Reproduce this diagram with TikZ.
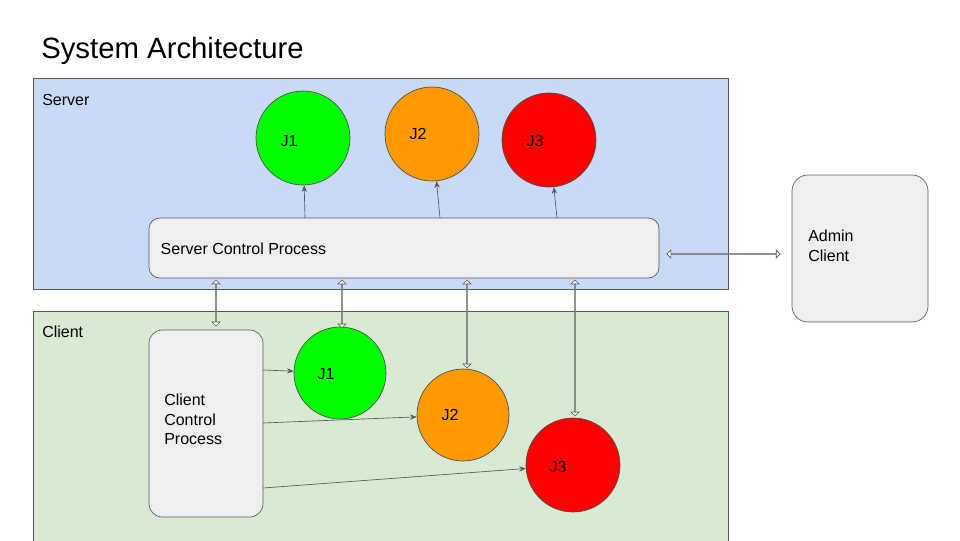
\documentclass[tikz,border=0pt]{standalone}
\usepackage{fontspec}
\setmainfont{Liberation Sans}
\usetikzlibrary{arrows.meta, shapes.arrows}
\definecolor{srvblue}{HTML}{C9DAF8}
\definecolor{cligreen}{HTML}{D9EAD3}
\definecolor{boxgray}{HTML}{EFEFEF}
\definecolor{jgreen}{HTML}{00FF00}
\definecolor{jorange}{HTML}{FF9900}
\definecolor{jred}{HTML}{FF0000}
\tikzset{
  area/.style={draw=gray!70!black, line width=0.5pt},
  proc/.style={draw=gray!70!black, fill=boxgray, rounded corners=8pt, line width=0.5pt},
  job/.style={circle, draw=gray!60!black, line width=0.5pt, inner sep=0pt},
  jlabel/.style={font=\fontsize{12}{14}\selectfont},
  hollow/.style={double arrow, draw=gray!70!black, fill=white, line width=0.5pt,
    minimum width=6pt, double arrow head extend=2.5pt, inner sep=0pt},
  thin/.style={draw=gray!70!black, line width=0.5pt, -{Stealth[length=5pt,width=4pt]}}
}
\begin{document}
\begin{tikzpicture}[x=0.75pt, y=-0.75pt, font=\fontsize{12}{14.5}\selectfont]
\useasboundingbox (0,0) rectangle (960,540);
\fill[white] (0,0) rectangle (960,540);
\node[anchor=base west, inner sep=0, font=\fontsize{22}{26}\selectfont] (title) at (41,58) {System Architecture};

% server side
\draw[area, fill=srvblue] (33,78) rectangle (728,289);
\node[anchor=base west, inner sep=0] (srvlbl) at (42,105) {Server};
\node[job, fill=jgreen, minimum size=70.5pt] (sj1) at (303,138) {};
\node[job, fill=jorange, minimum size=70.5pt] (sj2) at (432,134) {};
\node[job, fill=jred, minimum size=70.5pt] (sj3) at (549,140) {};
\node[jlabel] at (289,141) {J1};
\node[jlabel] at (418,134) {J2};
\node[jlabel] at (535,141) {J3};
\draw[proc] (149,218) rectangle (659,278);
\node[anchor=west] (scp) at (156,249) {Server Control Process};
\coordinate (s1) at (305,218);
\coordinate (s2) at (440,218);
\coordinate (s3) at (557,218);
\draw[thin] (s1) -- (sj1);
\draw[thin] (s2) -- (sj2);
\draw[thin] (s3) -- (sj3);

% admin
\draw[proc, rounded corners=12pt] (792,175) rectangle (928,322);
\node[anchor=north west, align=left, inner sep=0] (admin) at (808,230) {Admin\\Client};
\node[hollow, minimum height=85pt] (aarrow) at (723.5,254) {};

% client side
\draw[area, fill=cligreen] (33,311) rectangle (728,545);
\node[anchor=base west, inner sep=0] (clilbl) at (42,337) {Client};
\draw[proc, rounded corners=10pt] (149,330) rectangle (263,517);
\node[anchor=north west, align=left, inner sep=0] (ccp) at (164,394) {Client\\Control\\Process};
\node[job, fill=jgreen, minimum size=69pt] (cj1) at (340,373) {};
\node[job, fill=jorange, minimum size=69pt] (cj2) at (463,415) {};
\node[job, fill=jred, minimum size=70.5pt] (cj3) at (573,465) {};
\node[jlabel] at (326,374) {J1};
\node[jlabel] at (450,415) {J2};
\node[jlabel] at (558,467) {J3};
\coordinate (c1) at (263,370);
\coordinate (c2) at (263,423);
\coordinate (c3) at (263,488);
\draw[thin] (c1) -- (cj1);
\draw[thin] (c2) -- (cj2);
\draw[thin] (c3) -- (cj3);

% links between server and client
\node[hollow, rotate=90, minimum height=34.5pt] (v1) at (216,303) {};
\node[hollow, rotate=90, minimum height=36pt] (v2) at (342,304) {};
\node[hollow, rotate=90, minimum height=66pt] (v3) at (467,324) {};
\node[hollow, rotate=90, minimum height=102pt] (v4) at (575,348) {};
\end{tikzpicture}
\end{document}
